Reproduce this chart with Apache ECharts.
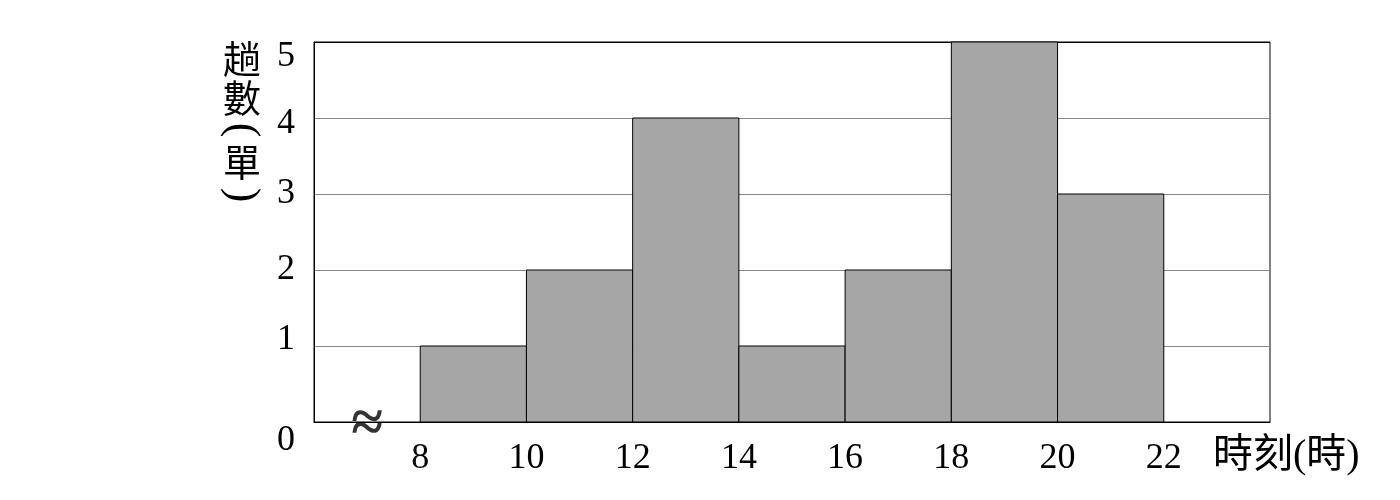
<!DOCTYPE html>
<html><head><meta charset="utf-8">
<script src="https://cdn.jsdelivr.net/npm/echarts@6/dist/echarts.min.js"></script>
<style>html,body{margin:0;padding:0;background:#fff}#c{width:1400px;height:500px}</style>
</head><body><div id="c"></div>
<script>
var binStart = [8, 10, 12, 14, 16, 18, 20];
var binEnd   = [10, 12, 14, 16, 18, 20, 22];
var counts   = [1, 2, 4, 1, 2, 5, 3];
var yTicks   = [0, 1, 2, 3, 4, 5];
var xTicks   = [8, 10, 12, 14, 16, 18, 20, 22];
var yNameChars = ['趟', '數', '(', '單', ')'];
var xName = '時刻(時)';
var breakMark = '≈';

var FONT = '"Liberation Serif","Noto Sans CJK TC",serif';
var CJK = '"Noto Sans CJK TC",sans-serif';
var data = binStart.map(function(s, i){ return [s, binEnd[i], counts[i]]; });

// vertical y-axis name: upright CJK chars, parentheses turned sideways
var nameYs = [59, 98, 130, 162, 195];
var nameGraphics = yNameChars.map(function(ch, i){
  var isParen = (ch === '(' || ch === ')');
  return {
    type: 'group', x: 242, y: nameYs[i],
    rotation: isParen ? -Math.PI / 2 : 0,
    children: [{
      type: 'text', x: 0, y: 0,
      style: {
        text: ch,
        fontFamily: isParen ? '"Liberation Serif",serif' : CJK,
        fontSize: isParen ? 44 : 38,
        fill: '#000', align: 'center', verticalAlign: 'middle'
      }
    }]
  };
});

var chart = echarts.init(document.getElementById('c'));
chart.setOption({
  animation: false,
  backgroundColor: '#fff',
  graphic: {elements: nameGraphics},
  grid: {left: 314, right: 130, top: 42, bottom: 78, show: true, borderColor: '#000', borderWidth: 1, backgroundColor: 'transparent'},
  xAxis: {
    type: 'value', min: 6, max: 24, interval: 2,
    name: xName, nameLocation: 'end', nameGap: -57,
    nameTextStyle: {fontFamily: FONT, fontSize: 40, color: '#000', verticalAlign: 'top', padding: [14, 0, 0, 0]},
    axisLine: {show: true, lineStyle: {color: '#000', width: 1}},
    axisTick: {show: false},
    splitLine: {show: false},
    axisLabel: {
      fontFamily: FONT, fontSize: 36, color: '#000', margin: 19,
      formatter: function(v){ return xTicks.indexOf(v) >= 0 ? String(v) : ''; }
    }
  },
  yAxis: {
    type: 'value', min: 0, max: 5, interval: 1,
    axisLine: {show: true, lineStyle: {color: '#000', width: 1}},
    axisTick: {show: false},
    splitLine: {show: true, lineStyle: {color: ['#888', '#888', '#888', '#888', '#888', '#000'], width: 1}},
    axisLabel: {
      fontFamily: FONT, fontSize: 36, color: '#000', margin: 19,
      formatter: function(v){
        if (v === 0) return '{z|0}';
        if (v === 5) return '{f|5}';
        if (v === 4) return '{g|4}';
        if (v === 1) return '{o|1}';
        return String(v);
      },
      rich: {
        z: {fontFamily: FONT, fontSize: 36, color: '#000', padding: [38, 0, 0, 0]},
        f: {fontFamily: FONT, fontSize: 36, color: '#000', padding: [30, 0, 0, 0]},
        g: {fontFamily: FONT, fontSize: 36, color: '#000', padding: [12, 0, 0, 0]},
        o: {fontFamily: FONT, fontSize: 36, color: '#000', padding: [0, 0, 12, 0]}
      }
    }
  },
  series: [
    {
      type: 'custom',
      data: data,
      renderItem: function(params, api){
        var p0 = api.coord([api.value(0), api.value(2)]);
        var p1 = api.coord([api.value(1), 0]);
        return {
          type: 'rect',
          shape: {x: p0[0], y: p0[1], width: p1[0] - p0[0], height: p1[1] - p0[1]},
          style: {fill: '#a6a6a6', stroke: '#000', lineWidth: 1}
        };
      },
      z: 3
    },
    {
      type: 'scatter',
      symbolSize: 0,
      data: [[7, 0]],
      silent: true,
      label: {show: true, position: 'inside', offset: [0, 4], formatter: breakMark, fontFamily: FONT, fontSize: 58, fontWeight: 'bold', color: '#000'},
      z: 5
    }
  ]
});
</script></body></html>
